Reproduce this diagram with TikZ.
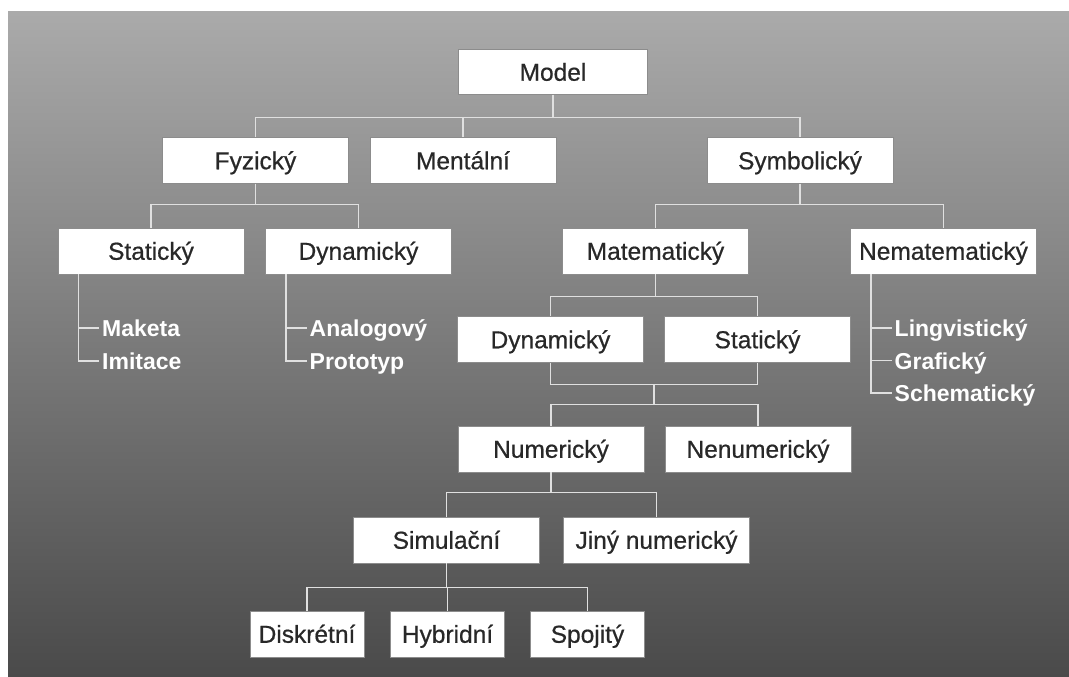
\documentclass[tikz,border=0pt]{standalone}
\usepackage{fontspec}
\setmainfont{Liberation Sans}
\newfontfamily\boxfont{Liberation Sans}[FakeBold=0.6]
\usetikzlibrary{calc}
\definecolor{bgtop}{RGB}{170,170,170}
\definecolor{bgbot}{RGB}{74,74,74}
\definecolor{boxtext}{RGB}{40,40,40}
\definecolor{wire}{RGB}{224,224,224}

\begin{document}
\begin{tikzpicture}[x=1pt, y=-1pt,
    typbox/.style={draw=black!45, line width=0.8pt, fill=white, text=boxtext,
      minimum width=186pt, minimum height=46pt, inner sep=0pt,
      text height=17.5pt, text depth=0pt, font=\boxfont\fontsize{24.5}{28}\selectfont},
    smallbox/.style={typbox, minimum width=114pt},
    listitem/.style={anchor=west, text=white, inner sep=3pt,
      text height=17pt, text depth=0pt, font=\bfseries\fontsize{23}{26}\selectfont},
    conn/.style={draw=wire, line width=1.5pt}]
  \useasboundingbox (0,0) rectangle (1069,677);
  \shade [top color=bgtop, bottom color=bgbot] (8,12) rectangle (1069,677);

  % boxes
  \node [typbox, minimum width=189pt, minimum height=45pt] (model) at (553,72) {Model};
  \node [typbox] (fyz) at (255.5,160.5) {Fyzický};
  \node [typbox] (men) at (463,160.5) {Mentální};
  \node [typbox] (sym) at (800,160.5) {Symbolický};
  \node [typbox] (stat) at (151,251) {Statický};
  \node [typbox] (dyn) at (358.5,251) {Dynamický};
  \node [typbox] (mat) at (655.5,251) {Matematický};
  \node [typbox] (nemat) at (943.5,251) {Nematematický};
  \node [typbox] (dyn3) at (550.5,339.5) {Dynamický};
  \node [typbox] (stat3) at (757.5,339.5) {Statický};
  \node [typbox] (num) at (551,449) {Numerický};
  \node [typbox] (nenum) at (758,449) {Nenumerický};
  \node [typbox] (sim) at (446.5,540) {Simulační};
  \node [typbox] (jiny) at (656.5,540) {Jiný numerický};
  \node [smallbox] (disk) at (307,634) {Diskrétní};
  \node [smallbox] (hyb) at (447.5,634) {Hybridní};
  \node [smallbox] (spoj) at (587.5,634) {Spojitý};

  % lists
  \node [listitem] (maketa) at (99,328) {Maketa};
  \node [listitem] (imitace) at (99,361) {Imitace};
  \node [listitem] (analog) at (306.5,328) {Analogový};
  \node [listitem] (proto) at (306.5,361) {Prototyp};
  \node [listitem] (ling) at (891.5,328) {Lingvistický};
  \node [listitem] (graf) at (891.5,360.5) {Grafický};
  \node [listitem] (schem) at (891.5,393) {Schematický};

  % connectors
  \foreach \c in {fyz,men,sym}
    \draw [conn] (model.south) -- ++(0,22.5) -| (\c.north);
  \foreach \c in {stat,dyn}
    \draw [conn] (fyz.south) -- ++(0,20.5) -| (\c.north);
  \foreach \c in {mat,nemat}
    \draw [conn] (sym.south) -- ++(0,20.5) -| (\c.north);
  \foreach \c in {dyn3,stat3}
    \draw [conn] (mat.south) -- ++(0,22) -| (\c.north);
  \draw [conn] (dyn3.south) -- ++(0,21.5) -| (stat3.south);
  \coordinate (join) at ($(dyn3.south)!.5!(stat3.south) + (0,21.5)$);
  \foreach \c in {num,nenum}
    \draw [conn] (join) -- ++(0,20) -| (\c.north);
  \foreach \c in {sim,jiny}
    \draw [conn] (num.south) -- ++(0,20) -| (\c.north);
  \foreach \c in {disk,hyb,spoj}
    \draw [conn] (sim.south) -- ++(0,24) -| (\c.north);

  \draw [conn] ([xshift=21pt]stat.south west) |- (imitace.west);
  \draw [conn] (maketa.west) -- ++(-20,0);
  \draw [conn] ([xshift=21pt]dyn.south west) |- (proto.west);
  \draw [conn] (analog.west) -- ++(-20,0);
  \draw [conn] ([xshift=21pt]nemat.south west) |- (schem.west);
  \foreach \c in {ling,graf}
    \draw [conn] (\c.west) -- ++(-20,0);
\end{tikzpicture}
\end{document}
